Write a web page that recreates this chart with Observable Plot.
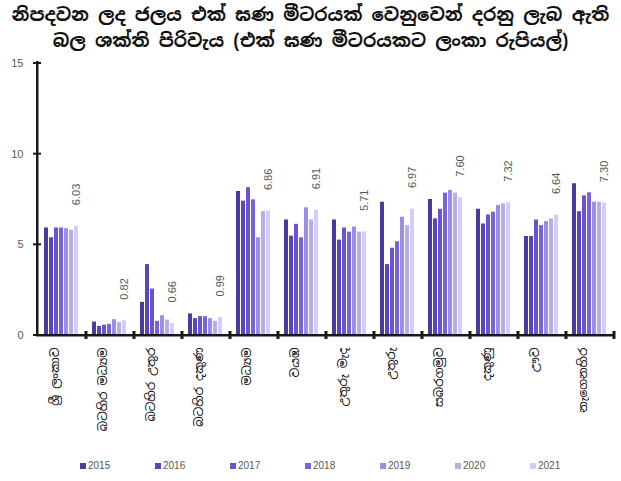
<!DOCTYPE html>
<html>
<head>
<meta charset="utf-8">
<script src="https://cdn.jsdelivr.net/npm/d3@7"></script>
<script src="https://cdn.jsdelivr.net/npm/@observablehq/plot@0.6"></script>
<style>
  body { margin: 0; background: #fff; width: 621px; height: 481px; overflow: hidden;
         font-family: "Noto Sans Sinhala", "Iskoola Pota", "Noto Sans", "DejaVu Sans", sans-serif; }
  #title { height: 58px; box-sizing: border-box; padding-top: 2px; text-align: center;
           font-size: 18.3px; font-weight: bold; line-height: 26px; color: #111; white-space: nowrap; }
  #legend { position: relative; height: 14px; margin-top: 12px; font-family: "Liberation Sans", Arial, sans-serif;
            font-size: 10px; color: #595959; }
  .item { position: absolute; top: 0; display: flex; align-items: center; gap: 2px; }
  .sw { width: 6px; height: 6px; display: inline-block; }
</style>
</head>
<body>
<div id="title"></div>
<div id="chart"></div>
<div id="legend"></div>
<script>
const titleLines = [
  "නිපදවන ලද ජලය එක් ඝණ මීටරයක් වෙනුවෙන් දරනු ලැබ ඇති",
  "බල ශක්ති පිරිවැය (එක් ඝණ මීටරයකට ලංකා රුපියල්)"
];
const categories = ["ශ්‍රී ලංකාව", "බටහිර මධ්‍යම", "බටහිර උතුර", "බටහිර දකුණ", "මධ්‍යම", "වයඹ",
  "උතුරු මැද", "උතුරු", "සබරගමුව", "දකුණු", "ඌව", "නැගෙනහිර"];
const years = ["2015", "2016", "2017", "2018", "2019", "2020", "2021"];
const v2015 = [5.93, 0.74, 1.83, 1.19, 7.94, 6.37, 6.37, 7.35, 7.50, 6.96, 5.46, 8.37];
const v2016 = [5.39, 0.50, 3.91, 0.93, 7.41, 5.48, 5.26, 3.91, 6.43, 6.15, 5.46, 6.83];
const v2017 = [5.93, 0.57, 2.56, 1.04, 8.15, 6.13, 5.93, 4.81, 6.96, 6.65, 6.37, 7.70];
const v2018 = [5.93, 0.61, 0.78, 1.04, 7.48, 5.39, 5.70, 5.17, 7.85, 6.80, 6.06, 7.87];
const v2019 = [5.89, 0.87, 1.09, 0.93, 5.39, 7.04, 5.98, 6.52, 8.00, 7.17, 6.28, 7.35];
const v2020 = [5.80, 0.72, 0.85, 0.78, 6.83, 6.37, 5.70, 6.06, 7.85, 7.26, 6.43, 7.35];
const v2021 = [6.03, 0.82, 0.66, 0.99, 6.86, 6.91, 5.71, 6.97, 7.60, 7.32, 6.64, 7.30];
const labelYear = "2021";
const yTicks = [0, 5, 10, 15];
const colors = ["#4b3b9b", "#5945bd", "#6a52d0", "#7a62dd", "#9c8de6", "#b8aeea", "#d4cef4"];

const series = [v2015, v2016, v2017, v2018, v2019, v2020, v2021];
const data = [];
categories.forEach((c, i) => years.forEach((y, j) => data.push({category: c, year: y, value: series[j][i]})));

document.getElementById("title").innerHTML = titleLines.map(t => `<div>${t}</div>`).join("");

const W = 621, H = 390, ML = 37, MR = 6;

const chart = Plot.plot({
  width: W, height: H,
  marginTop: 5, marginBottom: 113, marginLeft: ML, marginRight: MR,
  style: {fontFamily: "'Liberation Sans', Arial, sans-serif", background: "#fff"},
  fx: {domain: categories, paddingInner: 0, paddingOuter: 0, label: null},
  x: {domain: years, paddingInner: 0.2, paddingOuter: 1.0, align: 0.4, axis: null},
  y: {domain: [0, 15], label: null},
  color: {domain: years, range: colors},
  marks: [
    Plot.barY(data, {fx: "category", x: "year", y: "value", fill: "year"}),
    Plot.text(data.filter(d => d.year === labelYear), {
      fx: "category", x: "year", y: "value", text: d => d.value.toFixed(2),
      rotate: -90, textAnchor: "start", lineAnchor: "middle", dy: -21,
      fontSize: 11, fill: "#595959"
    }),
    Plot.axisY(yTicks, {tickSize: 0, tickPadding: 15, fontSize: 11, fill: "#595959", label: null}),
    Plot.axisFx({anchor: "bottom", tickSize: 0, tickPadding: 12, tickRotate: -90, dx: -7, fontSize: 12, fill: "#000",
      fontFamily: "'Noto Sans Sinhala', 'Iskoola Pota', 'Noto Sans', sans-serif", label: null})
  ]
});
document.getElementById("chart").appendChild(chart);

// axis lines and crossing tick marks as filled rectangles, positioned through Plot's own scales
const ys = chart.scale("y");
const fxs = chart.scale("fx");
const fxRange = fxs.range;
const bw = (fxs.bandwidth != null && isFinite(fxs.bandwidth))
  ? fxs.bandwidth : (fxRange[1] - fxRange[0]) / categories.length;
const y0 = ys.apply(0), yTop = ys.apply(d3.max(yTicks));
const xl = fxs.apply(categories[0]) - 1;
const xr = fxs.apply(categories[categories.length - 1]) + bw;
const axisColor = "rgb(25,25,25)";
const axes = d3.select(chart).append("g");
const box = (x, y, w, h) => axes.append("rect")
  .attr("x", x).attr("y", y).attr("width", w).attr("height", h)
  .attr("fill", axisColor).style("fill", axisColor);
box(xl - 1, yTop - 2, 2.5, y0 - yTop + 3);        // y-axis line
box(xl - 1, y0 - 1, xr - xl + 2, 2.5);             // baseline
yTicks.forEach(t => box(xl - 4, ys.apply(t) - 1, 8, 2));
categories.forEach(c => {
  const xb = fxs.apply(c) + bw;
  box(xb - 1.5, y0 - 4, 3, 8);
});

const legend = document.getElementById("legend");
years.forEach((y, j) => {
  const it = document.createElement("div");
  it.className = "item";
  it.style.left = (80 + j * 75) + "px";
  it.innerHTML = `<span class="sw" style="background:${colors[j]}"></span><span>${y}</span>`;
  legend.appendChild(it);
});
</script>
</body>
</html>
